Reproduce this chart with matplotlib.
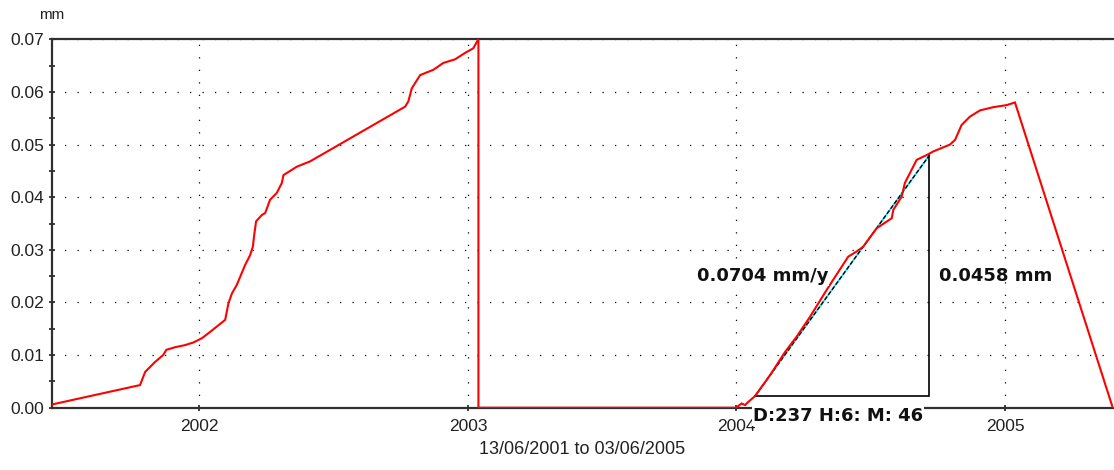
import matplotlib
matplotlib.use("Agg")
import matplotlib.pyplot as plt
from matplotlib.ticker import MultipleLocator, FormatStrFormatter

# ---- data (decimal years, mm) ----
years = [2001.450, 2001.779, 2001.798, 2001.835, 2001.865, 2001.877, 2001.910, 2001.947,
         2001.978, 2002.009, 2002.040, 2002.096, 2002.108, 2002.121, 2002.139, 2002.170,
         2002.189, 2002.199, 2002.204, 2002.211, 2002.232, 2002.245, 2002.263, 2002.288,
         2002.307, 2002.313, 2002.363, 2002.412, 2002.487, 2002.766, 2002.778, 2002.791,
         2002.822, 2002.871, 2002.908, 2002.952, 2002.989, 2003.020, 2003.033, 2003.039,
         2003.039, 2003.998, 2004.019, 2004.032, 2004.044, 2004.069, 2004.125, 2004.181,
         2004.224, 2004.274, 2004.336, 2004.360, 2004.416, 2004.448, 2004.472, 2004.522,
         2004.578, 2004.584, 2004.615, 2004.627, 2004.671, 2004.708, 2004.733, 2004.795,
         2004.814, 2004.838, 2004.869, 2004.907, 2004.956, 2005.006, 2005.037, 2005.401]
displacement = [0.0006, 0.0043, 0.0068, 0.0087, 0.0100, 0.0110, 0.0115, 0.0119,
                0.0124, 0.0132, 0.0144, 0.0167, 0.0198, 0.0217, 0.0233, 0.0271,
                0.0290, 0.0306, 0.0328, 0.0354, 0.0366, 0.0370, 0.0395, 0.0408,
                0.0427, 0.0442, 0.0458, 0.0468, 0.0490, 0.0572, 0.0582, 0.0607,
                0.0632, 0.0642, 0.0655, 0.0662, 0.0674, 0.0683, 0.0695, 0.0700,
                0.0000, 0.0000, 0.0008, 0.0005, 0.0011, 0.0022, 0.0062, 0.0106,
                0.0135, 0.0173, 0.0224, 0.0243, 0.0287, 0.0297, 0.0306, 0.0341,
                0.0360, 0.0376, 0.0401, 0.0427, 0.0471, 0.0480, 0.0487, 0.0500,
                0.0509, 0.0537, 0.0553, 0.0565, 0.0571, 0.0575, 0.0580, 0.0000]

year_ticks = [2002, 2003, 2004, 2005]
x_range = [2001.450, 2005.402]
y_range = [0.0, 0.07]

# fitted rate triangle
fit_start_year = 2004.069
fit_start_mm = 0.0022
fit_days, fit_hours, fit_minutes = 237, 6, 46
fit_rise = 0.0458
fit_rate = 0.0704
period_label = "13/06/2001 to 03/06/2005"

fit_span = (fit_days + fit_hours / 24 + fit_minutes / 1440) / 365.25
fit_end_year = fit_start_year + fit_span
fit_end_mm = fit_start_mm + fit_rise

# ---- figure ----
fig = plt.figure(figsize=(11.14, 4.70), dpi=100)
W, H = 1114, 470
left, right, top, bottom = 51.7, 1113, 39.3, 407.7
ax = fig.add_axes([left / W, 1 - bottom / H, (right - left) / W, (bottom - top) / H])

axis_col = "#303030"
ax.set_xlim(*x_range)
ax.set_ylim(*y_range)

for s in ["left", "bottom", "top"]:
    ax.spines[s].set_color(axis_col)
    ax.spines[s].set_linewidth(1.6)
ax.spines["right"].set_visible(False)

ax.set_xticks(year_ticks)
ax.set_xticklabels([str(y) for y in year_ticks])
ax.yaxis.set_major_locator(MultipleLocator(0.01))
ax.yaxis.set_minor_locator(MultipleLocator(0.005))
ax.yaxis.set_major_formatter(FormatStrFormatter("%.2f"))

tick_font = dict(family="Liberation Sans", size=12.5)
for lab in ax.get_xticklabels() + ax.get_yticklabels():
    lab.set_fontfamily("Liberation Sans")
    lab.set_fontsize(12.5)
    lab.set_color("#222222")

ax.tick_params(axis="y", which="both", direction="inout", length=4.5, width=1.3,
               color=axis_col, pad=3.0)
ax.tick_params(axis="x", which="major", direction="inout", length=5, width=1.3,
               color=axis_col, pad=5.5)

# dotted grid
ax.grid(True, which="major", color="black", linestyle=(0, (1, 9)), linewidth=0.9)
ax.set_axisbelow(True)

# data line
ax.plot(years, displacement, color="#ff0000", linewidth=1.5, zorder=3,
        solid_joinstyle="miter")

# fit triangle
ax.plot([fit_start_year, fit_end_year], [fit_start_mm, fit_end_mm],
        color="#00e5ff", linewidth=1.2, zorder=2.6)
ax.plot([fit_start_year, fit_end_year], [fit_start_mm, fit_end_mm],
        color="black", linewidth=1.0, linestyle=(0, (3, 1.5)), zorder=2.7)
ax.plot([fit_start_year, fit_end_year, fit_end_year],
        [fit_start_mm, fit_start_mm, fit_end_mm],
        color="black", linewidth=1.2, zorder=2.7, solid_joinstyle="miter")

mid_year = (fit_start_year + fit_end_year) / 2
mid_mm = (fit_start_mm + fit_end_mm) / 2
bold = dict(family="DejaVu Sans", weight="bold", size=13, color="#111111")
wbox = dict(facecolor="white", edgecolor="none", pad=0.6)

ax.annotate(f"{fit_rate:.4f} mm/y", xy=(mid_year, mid_mm), xytext=(-10, 0),
            textcoords="offset points", ha="right", va="center", bbox=wbox,
            zorder=4, **bold)
ax.annotate(f"{fit_rise:.4f} mm", xy=(fit_end_year, mid_mm), xytext=(6.5, 0),
            textcoords="offset points", ha="left", va="center", **bold)
ax.annotate(f"D:{fit_days} H:{fit_hours}: M: {fit_minutes}",
            xy=(fit_start_year, fit_start_mm), xytext=(-1.5, -8),
            textcoords="offset points", ha="left", va="top", bbox=wbox,
            zorder=4, annotation_clip=False, **bold)

ax.set_xlabel(period_label, fontfamily="Liberation Sans", fontsize=13,
              color="#222222", labelpad=5)
fig.text(51.7 / W, 1 - 15 / H, "mm", ha="center", va="center",
         fontfamily="Liberation Sans", fontsize=11, color="#222222")

fig.savefig("out.png", dpi=100, facecolor="white")
